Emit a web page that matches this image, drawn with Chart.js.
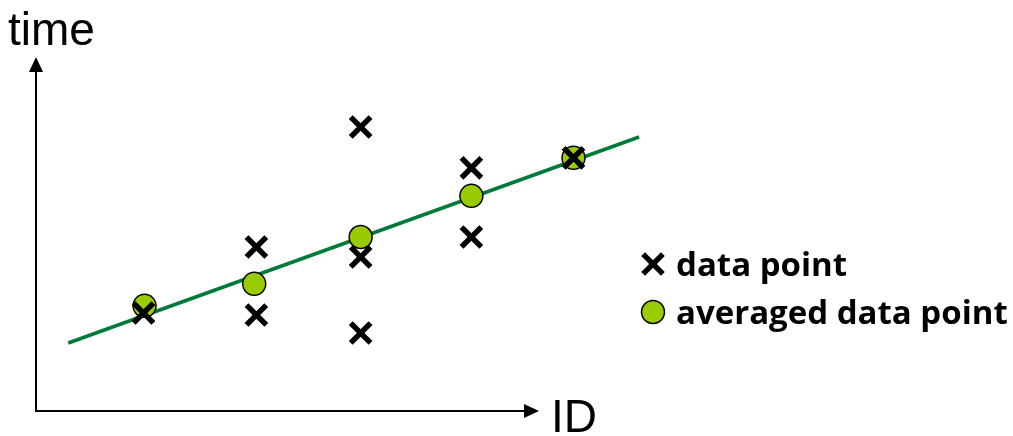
<!DOCTYPE html>
<html>
<head>
<meta charset="utf-8">
<script src="https://cdn.jsdelivr.net/npm/chart.js@4/dist/chart.umd.min.js"></script>
<style>
  html, body { margin: 0; padding: 0; background: #fff; }
  #wrap { width: 1013px; height: 436px; }
</style>
</head>
<body>
<div id="wrap"><canvas id="myChart" width="1013" height="436"></canvas></div>
<script>
// measurements per ID (x = ID, y = time)
const pointIds   = [1, 2.05, 2.05, 3.02, 3.02, 3.02, 4.05, 4.05, 5];
const pointTimes = [2.45, 4.1, 2.4, 7.1, 3.85, 1.95, 6.08, 4.35, 6.33];

const avgIds   = [1.01, 2.03, 3.02, 4.05, 5];
const avgTimes = [2.63, 3.18, 4.35, 5.38, 6.33];

// fitted line end points
const fitIds   = [0.3, 5.61];
const fitTimes = [1.7, 6.85];

const legendLabels = ['data point', 'averaged data point'];

const toXY = (xs, ys) => xs.map((x, i) => ({ x: x, y: ys[i] }));

const crossStyle = { pointStyle: 'crossRot', radius: 14, borderWidth: 5.5 };
const dotStyle = { pointStyle: 'circle', radius: 11.5, borderWidth: 1.5 };

const decor = {
    id: 'decor',
    afterDraw(chart) {
        const ctx = chart.ctx;
        const xs = chart.scales.x, ys = chart.scales.y;
        const x0 = xs.getPixelForValue(0), y0 = ys.getPixelForValue(0);
        ctx.save();
        ctx.strokeStyle = '#000';
        ctx.fillStyle = '#000';
        ctx.lineWidth = 2;
        // y axis
        ctx.beginPath();
        ctx.moveTo(x0, y0);
        ctx.lineTo(x0, 70);
        ctx.stroke();
        ctx.beginPath();
        ctx.moveTo(x0, 57);
        ctx.lineTo(x0 - 7, 72);
        ctx.lineTo(x0 + 7, 72);
        ctx.closePath();
        ctx.fill();
        // x axis
        ctx.beginPath();
        ctx.moveTo(x0 - 1, y0);
        ctx.lineTo(525, y0);
        ctx.stroke();
        ctx.beginPath();
        ctx.moveTo(539, y0);
        ctx.lineTo(524, y0 - 7);
        ctx.lineTo(524, y0 + 7);
        ctx.closePath();
        ctx.fill();
        // axis titles
        ctx.font = '46px "Liberation Sans", Arial, sans-serif';
        ctx.textBaseline = 'alphabetic';
        ctx.textAlign = 'left';
        ctx.fillText('time', 8, 45);
        ctx.fillText('ID', 551, 432);
        // legend
        ctx.strokeStyle = '#000';
        ctx.lineWidth = crossStyle.borderWidth;
        Chart.helpers.drawPoint(ctx, crossStyle, 653, 264);
        ctx.fillStyle = '#99cc00';
        ctx.lineWidth = dotStyle.borderWidth;
        Chart.helpers.drawPoint(ctx, dotStyle, 653, 312);
        ctx.fillStyle = '#000';
        ctx.font = 'bold 33px "Open Sans", sans-serif';
        ctx.fillText(legendLabels[0], 676, 276);
        ctx.fillText(legendLabels[1], 676, 324);
        ctx.restore();
    }
};

const ctx = document.getElementById('myChart').getContext('2d');
const myChart = new Chart(ctx, {
    type: 'scatter',
    data: {
        datasets: [{
            type: 'line',
            label: 'fit',
            data: toXY(fitIds, fitTimes),
            borderColor: '#007a3a',
            borderWidth: 3.5,
            pointRadius: 0,
            fill: false,
            order: 3
        }, {
            label: legendLabels[1],
            data: toXY(avgIds, avgTimes),
            pointStyle: 'circle',
            pointRadius: 11.5,
            pointBorderWidth: 1.5,
            borderColor: '#000',
            backgroundColor: '#99cc00',
            order: 2
        }, {
            label: legendLabels[0],
            data: toXY(pointIds, pointTimes),
            pointStyle: 'crossRot',
            pointRadius: 14,
            pointBorderWidth: 5.5,
            borderColor: '#000',
            backgroundColor: '#000',
            order: 1
        }]
    },
    options: {
        responsive: false,
        animation: false,
        layout: { autoPadding: false, padding: { left: 36, right: 9.5, top: 11, bottom: 25 } },
        scales: {
            x: { type: 'linear', min: 0, max: 9, display: false },
            y: { type: 'linear', min: 0, max: 10, display: false }
        },
        plugins: {
            legend: { display: false },
            tooltip: { enabled: false }
        }
    },
    plugins: [decor]
});
</script>
</body>
</html>
